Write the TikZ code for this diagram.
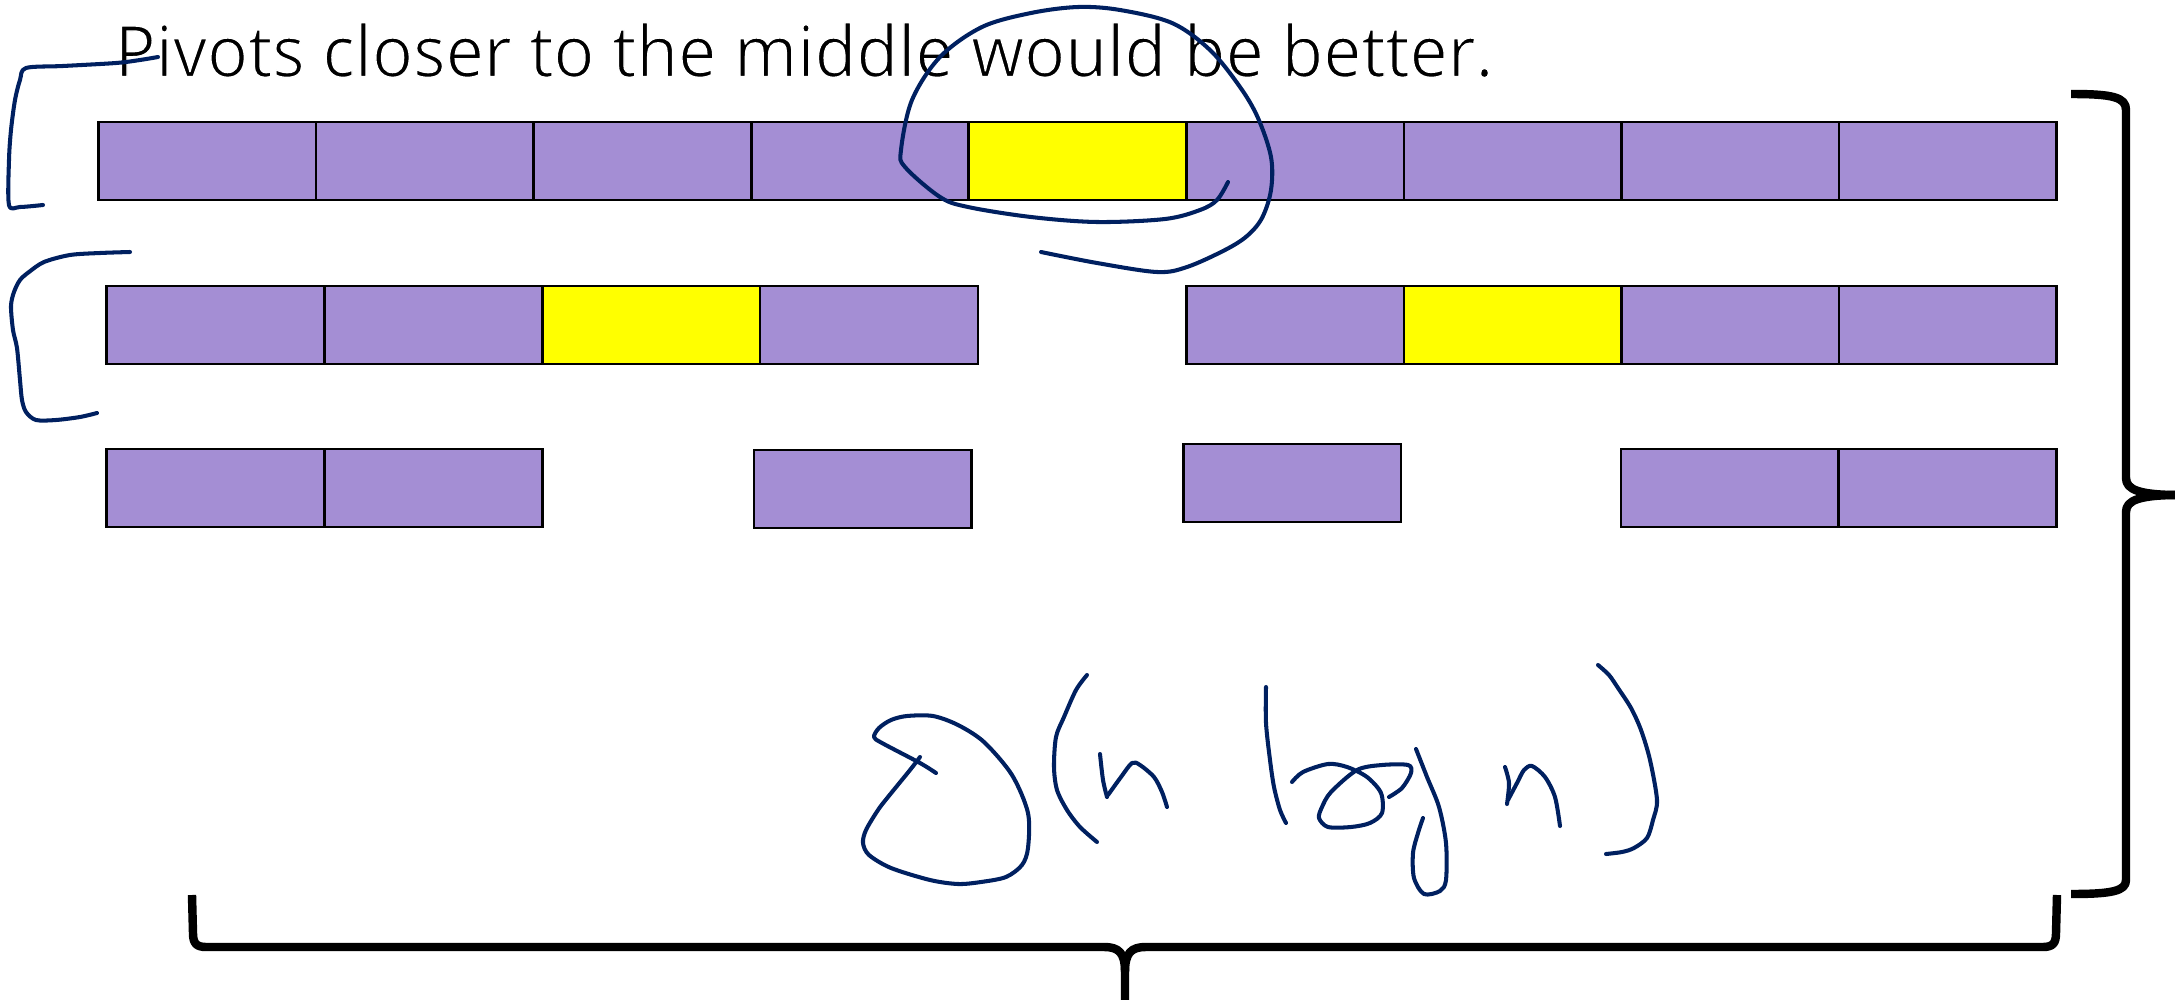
\documentclass[tikz,border=0pt]{standalone}
\usepackage{fontspec}
\setmainfont{Open Sans}
\usepackage{graphicx}
\definecolor{purp}{RGB}{164,142,212}
\definecolor{piv}{RGB}{255,255,0}
\definecolor{ink}{RGB}{0,32,96}
\newcommand{\thintext}[1]{\special{pdf:literal direct 2 Tr 0.2 w 1 1 1 RG}#1\special{pdf:literal direct 0 Tr 0 0 0 RG}}
\tikzset{
  cell/.style={draw=black, line width=0.75pt, fill=purp, inner sep=0pt, outer sep=0pt,
    minimum height=0.78cm, anchor=north west},
  pivotcell/.style={cell, fill=piv},
  pen/.style={draw=ink, line width=1.15pt, line cap=round, line join=round},
  bracestroke/.style={draw=black, line width=2.4pt, line cap=butt, line join=round}
}
\begin{document}
\begin{tikzpicture}[x=0.01cm, y=-0.01cm]
\useasboundingbox (0,0) rectangle (2175,1000);

% title
\node[anchor=base west, inner sep=0pt] (title) at (114,76.7)
  {\resizebox{13.78cm}{0.54cm}{\thintext{Pivots closer to the middle would be better.}}};

% row 1 : nine cells, fifth is the pivot
\foreach \i in {1,...,9}{
  \pgfmathsetmacro{\xx}{98.5+(\i-1)*217.56}
  \ifnum\i=5
    \node[pivotcell, minimum width=2.1756cm] (r1c\i) at (\xx,122) {};
  \else
    \node[cell, minimum width=2.1756cm] (r1c\i) at (\xx,122) {};
  \fi
}

% row 2 left
\foreach \i in {1,...,4}{
  \pgfmathsetmacro{\xx}{106.7+(\i-1)*217.8}
  \ifnum\i=3
    \node[pivotcell, minimum width=2.178cm] (r2a\i) at (\xx,286) {};
  \else
    \node[cell, minimum width=2.178cm] (r2a\i) at (\xx,286) {};
  \fi
}
% row 2 right
\foreach \i in {1,...,4}{
  \pgfmathsetmacro{\xx}{1186.5+(\i-1)*217.5}
  \ifnum\i=2
    \node[pivotcell, minimum width=2.175cm] (r2b\i) at (\xx,286) {};
  \else
    \node[cell, minimum width=2.175cm] (r2b\i) at (\xx,286) {};
  \fi
}

% row 3
\node[cell, minimum width=2.178cm] (r3a1) at (106.7,449) {};
\node[cell, minimum width=2.178cm] (r3a2) at (324.5,449) {};
\node[cell, minimum width=2.176cm] (r3b1) at (754,450) {};
\node[cell, minimum width=2.174cm] (r3c1) at (1183.6,444) {};
\node[cell, minimum width=2.177cm] (r3d1) at (1621,449) {};
\node[cell, minimum width=2.177cm] (r3d2) at (1838.7,449) {};

% right brace
\draw[bracestroke] (2071,94) .. controls (2112,94) and (2126,97) .. (2126,110)
  -- (2126,478) .. controls (2126,490) and (2140,495) .. (2180,495);
\draw[bracestroke] (2180,495) .. controls (2140,495) and (2126,500) .. (2126,512)
  -- (2126,880) .. controls (2126,891) and (2112,894) .. (2071,894);

% bottom brace
\draw[bracestroke] (192,895) -- (193,933) .. controls (193,943) and (196,947) .. (206,947)
  -- (1104,947) .. controls (1119,947) and (1125,953) .. (1125,972) -- (1125,1003);
\draw[bracestroke] (2057,895) -- (2056,933) .. controls (2056,943) and (2053,947) .. (2043,947)
  -- (1146,947) .. controls (1131,947) and (1125,953) .. (1125,972);

% handwritten brackets
\draw[pen] plot[smooth, tension=0.5] coordinates {(158,57) (140,60) (116,63) (63,66) (26,68) (20,80) (15,100) (11,130) (9,160) (9,205) (20,207) (43,205)};
\draw[pen] plot[smooth, tension=0.5] coordinates {(130,252) (100,253) (70,255) (44,262) (29,272) (20,280) (14,292) (11,306) (13,330) (17,348) (20,380) (22,400) (26,412) (36,420) (56,420) (80,417) (97,413)};

% spiral around the pivot
\draw[pen] plot[smooth, tension=0.55] coordinates {(1041,252) (1097,263) (1157,272) (1187,267) (1225,250) (1247,236) (1262,218) (1271,190) (1271,157) (1258,118) (1240,87) (1210,50) (1172,23) (1120,10) (1078,7) (1031,13) (982,27) (940,57) (912,100) (901,150) (905,167) (940,197) (968,207) (1031,217) (1097,222) (1165,219) (1200,210) (1217,200) (1228,182)};

% O(n log n)
\draw[pen] plot[smooth, tension=0.5] coordinates {(936,773) (920,763) (882,743) (874,737) (879,728) (891,720) (907,716) (933,716) (958,725) (984,742) (1012,775) (1028,813) (1028,848) (1022,865) (1006,877) (981,882) (958,884) (930,880) (891,868) (869,855) (863,843) (866,830) (878,810) (888,797) (910,770) (920,757)};
\draw[pen] plot[smooth, tension=0.5] coordinates {(1087,675) (1076,690) (1064,717) (1056,737) (1054,767) (1057,790) (1067,810) (1080,827) (1097,842)};
\draw[pen] plot[smooth, tension=0.5] coordinates {(1100,754) (1103,780) (1107,797)};
\draw[pen] plot[smooth, tension=0.5] coordinates {(1108,795) (1121,777) (1132,763) (1140,765) (1154,777) (1162,792) (1167,807)};
\draw[pen] plot[smooth, tension=0.5] coordinates {(1266,687) (1266,723) (1270,760) (1274,787) (1280,810) (1286,823)};
\draw[pen] plot[smooth, tension=0.5] coordinates {(1292,782) (1303,772) (1328,764) (1347,767) (1367,777) (1381,793) (1382,813) (1370,823) (1351,827) (1328,827) (1319,818) (1322,807) (1331,792) (1357,770) (1382,765) (1408,765) (1411,773) (1402,788) (1389,797)};
\draw[pen] plot[smooth, tension=0.5] coordinates {(1416,749) (1427,777) (1439,807) (1446,843) (1446,880) (1440,891) (1424,894) (1414,878) (1413,853) (1418,833) (1423,818)};
\draw[pen] plot[smooth, tension=0.5] coordinates {(1505,767) (1509,783) (1507,804)};
\draw[pen] plot[smooth, tension=0.5] coordinates {(1508,800) (1517,783) (1524,770) (1532,766) (1545,777) (1555,797) (1560,826)};
\draw[pen] plot[smooth, tension=0.5] coordinates {(1598,665) (1609,675) (1618,688) (1631,708) (1641,730) (1650,760) (1657,800) (1653,820) (1647,838) (1634,848) (1622,852) (1606,854)};

\end{tikzpicture}
\end{document}
